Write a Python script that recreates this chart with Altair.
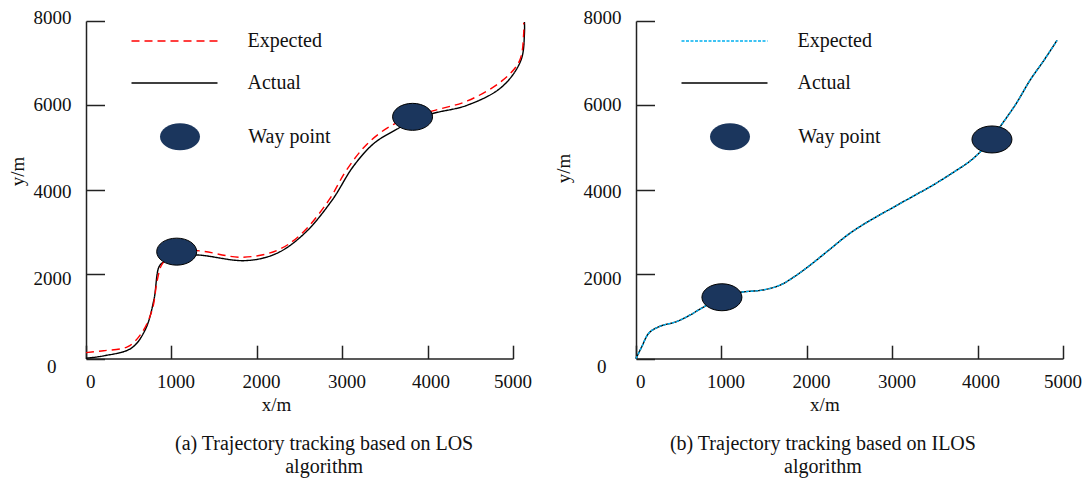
import altair as alt
import pandas as pd

FONT = "Liberation Serif"
TEXT = "#111111"
NAVY = "#1b365d"
SERIES = ["Expected", "Actual"]

# ---------- (a) LOS ----------
los_expected_x = [0, 205, 490, 650, 775, 835, 895, 1060, 1302, 1830, 2235, 2520, 2840, 3045, 3290, 3570, 3815, 4060, 4465, 4870, 5075, 5125, 5125]
los_expected_y = [140, 185, 280, 600, 1150, 1860, 2250, 2520, 2556, 2400, 2560, 2950, 3740, 4450, 5080, 5515, 5710, 5870, 6105, 6580, 7050, 7700, 7960]
los_actual_x = [0, 207, 531, 693, 795, 856, 916, 1060, 1302, 1869, 2234, 2559, 2883, 3127, 3370, 3654, 3850, 4059, 4465, 4870, 5093, 5134, 5134]
los_actual_y = [8, 63, 245, 679, 1389, 2178, 2296, 2420, 2454, 2320, 2493, 2967, 3756, 4545, 5097, 5452, 5660, 5807, 6004, 6438, 7069, 7701, 7977]
los_waypoint_x = [1062, 3824]
los_waypoint_y = [2533, 5728]

# ---------- (b) ILOS ----------
ilos_x = [0, 69, 150, 272, 475, 637, 800, 1000, 1205, 1489, 1692, 1855, 2017, 2260, 2504, 2748, 2991, 3235, 3478, 3722, 3924, 4100, 4290, 4452, 4614, 4777, 4931]
ilos_expected_y = [0, 284, 600, 757, 876, 1034, 1231, 1420, 1562, 1625, 1744, 1941, 2178, 2572, 2967, 3282, 3558, 3835, 4111, 4420, 4700, 5050, 5570, 6044, 6596, 7069, 7543]
ilos_actual_y = [0, 284, 600, 757, 876, 1034, 1231, 1420, 1562, 1625, 1744, 1941, 2178, 2572, 2967, 3282, 3558, 3835, 4111, 4420, 4700, 5050, 5570, 6044, 6596, 7069, 7543]
ilos_waypoint_x = [1006, 4168]
ilos_waypoint_y = [1452, 5192]

x_ticks = [0, 1000, 2000, 3000, 4000, 5000]
y_ticks = [0, 2000, 4000, 6000, 8000]
caption_a = ["(a) Trajectory tracking based on LOS", "algorithm"]
caption_b = ["(b) Trajectory tracking based on ILOS", "algorithm"]

ELLIPSE = ("M 1 0 C 1 0.373 0.552 0.675 0 0.675 C -0.552 0.675 -1 0.373 -1 0 "
           "C -1 -0.373 -0.552 -0.675 0 -0.675 C 0.552 -0.675 1 -0.373 1 0 Z")

W, H = 427, 337.5


def line_df(xs, ys, name):
    return pd.DataFrame({"x": xs, "y": ys, "series": name, "order": list(range(len(xs)))})


def make_panel(ex, ey, ax_, ay, wx, wy, exp_color, exp_dash, caption, cap_dx, ytx, yty, xtx):
    xs = alt.Scale(domain=[0, 5000], nice=False, zero=False)
    ys = alt.Scale(domain=[0, 8000], nice=False, zero=False)

    x_axis = alt.Axis(
        orient="bottom", values=x_ticks, format="d", ticks=False, tickSize=0, grid=False,
        domain=True, domainColor="#222222", domainWidth=1.5, labelFlush=False,
        labelFont=FONT, labelFontSize=19, labelColor=TEXT, labelPadding=13.5,
        labelOffset={"condition": [{"test": "datum.value == 4000", "value": 3},
                                   {"test": "datum.value == 5000", "value": -0.5}], "value": 4.2},
        title="x/m", titleFont=FONT, titleFontSize=19, titleFontWeight="normal", titleColor=TEXT,
        titleX=xtx, titleY=45.5, titleBaseline="middle", titleAlign="center")
    y_axis = alt.Axis(
        orient="left", values=y_ticks, format="d", ticks=False, tickSize=0, grid=False,
        domain=True, domainColor="#222222", domainWidth=1.5, labelFlush=False,
        labelFont=FONT, labelFontSize=19, labelColor=TEXT, labelBaseline="middle",
        labelPadding={"condition": {"test": "datum.value == 0", "value": 30}, "value": 15},
        labelOffset={"condition": [{"test": "datum.value == 8000", "value": -4},
                                   {"test": "datum.value == 6000", "value": -1},
                                   {"test": "datum.value == 4000", "value": 2},
                                   {"test": "datum.value == 2000", "value": 4.5}], "value": 7.5},
        title="y/m", titleFont=FONT, titleFontSize=19, titleFontWeight="normal", titleColor=TEXT,
        titleX=ytx, titleY=yty, titleBaseline="middle", titleAlign="center", titleAngle=270)
    x_ticks_axis = alt.Axis(orient="top", offset=-H, values=x_ticks, labels=False, domain=False,
                            ticks=True, tickSize=13.3, tickWidth=1.5, tickColor="#222222",
                            grid=False, title=None)
    y_ticks_axis = alt.Axis(orient="right", offset=-W, values=y_ticks, labels=False, domain=False,
                            ticks=True, tickSize=18.5, tickWidth=1.5, tickColor="#222222",
                            grid=False, title=None)

    line_legend = alt.Legend(title=None, orient="none", legendX=44.5, legendY=10,
                             symbolType="stroke", symbolSize=86 * 86, symbolStrokeWidth=1.5,
                             clipHeight=20,
                             labelFont=FONT, labelFontSize=20, labelColor=TEXT,
                             labelOffset=29, rowPadding=22, padding=0)
    color = alt.Color("series:N", scale=alt.Scale(domain=SERIES, range=[exp_color, "black"]),
                      legend=line_legend)
    dash = alt.StrokeDash("series:N", scale=alt.Scale(domain=SERIES, range=[exp_dash, [1, 0]]),
                          legend=line_legend)

    act = alt.Chart(line_df(ax_, ay, "Actual")).mark_line(
        strokeWidth=1.4, interpolate="catmull-rom", clip=False).encode(
        x=alt.X("x:Q", scale=xs, axis=x_axis),
        y=alt.Y("y:Q", scale=ys, axis=y_axis),
        order="order:Q", color=color, strokeDash=dash)
    exp = alt.Chart(line_df(ex, ey, "Expected")).mark_line(
        strokeWidth=1.4, interpolate="catmull-rom", clip=False).encode(
        x=alt.X("x:Q", scale=xs, axis=None),
        y=alt.Y("y:Q", scale=ys, axis=None),
        order="order:Q", color=color, strokeDash=dash)

    wp_df = pd.DataFrame({"x": wx, "y": wy, "label": "Way point"})
    wp = alt.Chart(wp_df).mark_point(
        filled=True, fill=NAVY, stroke="black", strokeWidth=1, size=1600, opacity=1).encode(
        x=alt.X("x:Q", scale=xs, axis=x_ticks_axis),
        y=alt.Y("y:Q", scale=ys, axis=y_ticks_axis),
        shape=alt.Shape("label:N", scale=alt.Scale(domain=["Way point"], range=[ELLIPSE]),
                        legend=alt.Legend(title=None, orient="none", legendX=73.5, legendY=95.2,
                                          symbolSize=1600, symbolFillColor=NAVY,
                                          symbolStrokeColor="black", symbolStrokeWidth=1,
                                          symbolOpacity=1,
                                          labelFont=FONT, labelFontSize=20, labelColor=TEXT,
                                          labelOffset=47.8, padding=0)))

    return alt.layer(act, exp, wp).properties(
        width=W, height=H,
        title=alt.TitleParams(caption, orient="bottom", anchor="middle", frame="group",
                              font=FONT, fontSize=20, fontWeight="normal", color=TEXT,
                              lineHeight=23.3, dx=cap_dx, offset=20))


panel_a = make_panel(los_expected_x, los_expected_y, los_actual_x, los_actual_y,
                     los_waypoint_x, los_waypoint_y, "#ff0000", [8, 5], caption_a, 24.6,
                     -68.7, 150, 190)
panel_b = make_panel(ilos_x, ilos_expected_y, ilos_x, ilos_actual_y,
                     ilos_waypoint_x, ilos_waypoint_y, "#00b0f0", [3, 1.5], caption_b, -26.6,
                     -72.1, 147, 188.4)

chart = alt.hconcat(panel_a, panel_b, spacing=22).resolve_scale(
    color="independent", strokeDash="independent", shape="independent",
    x="independent", y="independent"
).properties(
    padding={"left": 0, "top": 0, "right": 0, "bottom": 4},
    background="white"
).configure(
    font=FONT
).configure_axis(
    labelFont=FONT, titleFont=FONT
).configure_legend(
    labelFont=FONT, titleFont=FONT
).configure_title(
    font=FONT
).configure_view(stroke=None)

chart.save("out.html", embed_options={"renderer": "svg", "actions": False})
